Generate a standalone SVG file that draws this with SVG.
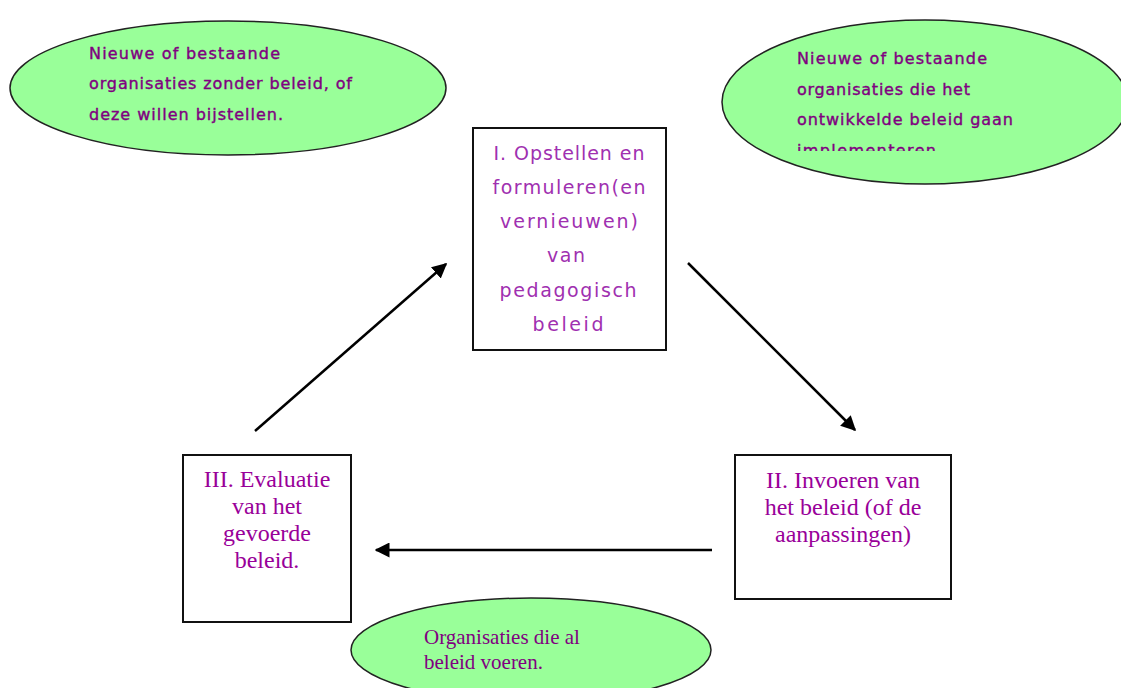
<svg xmlns="http://www.w3.org/2000/svg" width="1121" height="688" viewBox="0 0 1121 688">
<style>
.ell{fill:#99ff99;stroke:#222;stroke-width:1.5}
.box{fill:#fff;stroke:#111;stroke-width:2}
.pix{font-family:"DejaVu Sans",sans-serif;font-size:16px;fill:#800080;stroke:#800080;stroke-width:0.4}
.pixb{font-family:"DejaVu Sans",sans-serif;font-size:19px;fill:#a030b0;text-anchor:middle}
.ser{font-family:"Liberation Serif",serif;font-size:24px;fill:#990099;text-anchor:middle}
.ser2{font-family:"Liberation Serif",serif;font-size:21px;fill:#800080}
.con{stroke:#000;stroke-width:2.5;fill:none;marker-end:url(#ah)}
</style>
<defs>
<marker id="ah" viewBox="0 0 10 10" refX="9" refY="5" markerWidth="6" markerHeight="6" orient="auto" markerUnits="strokeWidth">
<path d="M0,0 L10,5 L0,10 z" fill="#000"/>
</marker>
<clipPath id="clip2"><rect x="780" y="30" width="300" height="121"/></clipPath>
</defs>
<rect width="1121" height="688" fill="#fff"/>
<g id="ellipse-new-without-policy">
<ellipse class="ell" cx="228" cy="88" rx="218" ry="67"/>
<text class="pix" x="89" y="59" textLength="191" lengthAdjust="spacing">Nieuwe of bestaande</text>
<text class="pix" x="89" y="89" textLength="263" lengthAdjust="spacing">organisaties zonder beleid, of</text>
<text class="pix" x="89" y="120" textLength="194" lengthAdjust="spacing">deze willen bijstellen.</text>
</g>
<g id="ellipse-implementing">
<ellipse class="ell" cx="925" cy="102" rx="203" ry="82"/>
<g clip-path="url(#clip2)">
<text class="pix" x="797" y="64" textLength="190" lengthAdjust="spacing">Nieuwe of bestaande</text>
<text class="pix" x="797" y="95" textLength="173" lengthAdjust="spacing">organisaties die het</text>
<text class="pix" x="797" y="125" textLength="216" lengthAdjust="spacing">ontwikkelde beleid gaan</text>
<text class="pix" x="797" y="156" textLength="139" lengthAdjust="spacing">implementeren</text>
</g>
</g>
<g id="node-I">
<rect class="box" x="473" y="128" width="193" height="222"/>
<text class="pixb" x="569" y="160" textLength="151" lengthAdjust="spacing">I. Opstellen en</text>
<text class="pixb" x="569" y="194" textLength="153" lengthAdjust="spacing">formuleren(en</text>
<text class="pixb" x="569" y="228" textLength="138" lengthAdjust="spacing">vernieuwen)</text>
<text class="pixb" x="566" y="262" textLength="38" lengthAdjust="spacing">van</text>
<text class="pixb" x="568" y="297" textLength="137" lengthAdjust="spacing">pedagogisch</text>
<text class="pixb" x="568" y="331" textLength="71" lengthAdjust="spacing">beleid</text>
</g>
<g id="node-II">
<rect class="box" x="735" y="455" width="216" height="144"/>
<text class="ser" x="843" y="488">II. Invoeren van</text>
<text class="ser" x="843" y="515">het beleid (of de</text>
<text class="ser" x="843" y="542">aanpassingen)</text>
</g>
<g id="node-III">
<rect class="box" x="183" y="455" width="168" height="167"/>
<text class="ser" x="267" y="487">III. Evaluatie</text>
<text class="ser" x="267" y="514">van het</text>
<text class="ser" x="267" y="541">gevoerde</text>
<text class="ser" x="267" y="568">beleid.</text>
</g>
<g id="ellipse-existing">
<ellipse class="ell" cx="531" cy="650" rx="180" ry="52"/>
<text class="ser2" x="424" y="644">Organisaties die al</text>
<text class="ser2" x="424" y="669">beleid voeren.</text>
</g>
<g id="connectors">
<line class="con" x1="255" y1="431" x2="446" y2="264"/>
<line class="con" x1="688" y1="263" x2="855" y2="430"/>
<line class="con" x1="712" y1="550" x2="376" y2="550"/>
</g>
</svg>
